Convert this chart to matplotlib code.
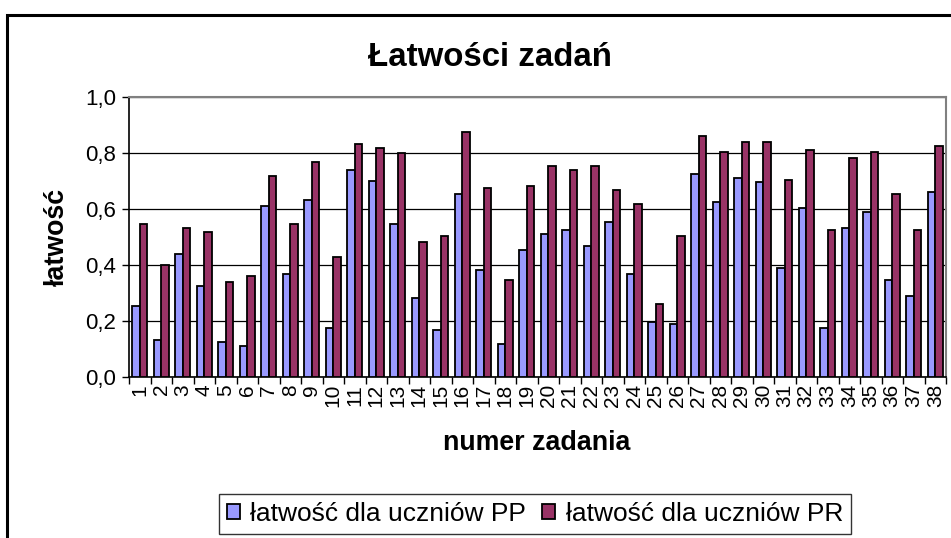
import numpy as np
import matplotlib.pyplot as plt
from matplotlib.patches import Rectangle
from matplotlib.ticker import FuncFormatter, FixedLocator

plt.rcParams['font.family'] = ['Liberation Sans', 'DejaVu Sans']

zadania = [str(i) for i in range(1, 39)]
latwosc_pp = [0.255, 0.133, 0.44, 0.326, 0.126, 0.112, 0.612, 0.369, 0.633, 0.176,
              0.740, 0.699, 0.548, 0.283, 0.169, 0.655, 0.383, 0.119, 0.455, 0.512,
              0.526, 0.469, 0.555, 0.369, 0.198, 0.190, 0.726, 0.626, 0.712, 0.698,
              0.389, 0.605, 0.176, 0.533, 0.590, 0.348, 0.290, 0.662]
latwosc_pr = [0.548, 0.399, 0.533, 0.519, 0.340, 0.362, 0.719, 0.548, 0.769, 0.427,
              0.833, 0.819, 0.800, 0.483, 0.505, 0.876, 0.676, 0.348, 0.683, 0.755,
              0.740, 0.755, 0.669, 0.619, 0.262, 0.505, 0.862, 0.805, 0.840, 0.840,
              0.705, 0.812, 0.526, 0.783, 0.805, 0.655, 0.526, 0.826]

fig = plt.figure(figsize=(9.51, 5.38), dpi=100)
W, H = 951, 538

# outer chart frame (cut by the image edges)
fig.patches.append(Rectangle((7 / W, -0.1), 1.2, 1 - 15 / H + 0.1, transform=fig.transFigure,
                             fill=False, edgecolor='black', linewidth=2.2))

ax = fig.add_axes([129 / W, 1 - 377 / H, (946 - 129) / W, (377 - 97) / H])
x = np.arange(len(zadania))
w = 0.34
ax.bar(x - w / 2, latwosc_pp, w, color='#9999FF', edgecolor='black', linewidth=1.3,
       label='łatwość dla uczniów PP', zorder=3)
ax.bar(x + w / 2, latwosc_pr, w, color='#993366', edgecolor='black', linewidth=1.3,
       label='łatwość dla uczniów PR', zorder=3)

ax.set_xlim(-0.5, len(zadania) - 0.5)
ax.set_ylim(0, 1.0)
ax.set_yticks(np.arange(0, 1.01, 0.2))
ax.yaxis.set_major_formatter(FuncFormatter(lambda v, p: f'{v:.1f}'.replace('.', ',')))
ax.grid(axis='y', color='black', linewidth=0.9, zorder=0)

ax.set_xticks(x)
ax.set_xticklabels(zadania, rotation=90, fontsize=15)
ax.tick_params(axis='x', which='major', length=0, pad=5)
ax.xaxis.set_minor_locator(FixedLocator(np.arange(-0.5, len(zadania), 1)))
ax.tick_params(axis='x', which='minor', length=5, width=1, color='black', direction='out')
ax.tick_params(axis='y', labelsize=16, length=5, width=1, direction='out', pad=4)

for s in ['top', 'right']:
    ax.spines[s].set_color('#808080')
    ax.spines[s].set_linewidth(1.5)
for s in ['left', 'bottom']:
    ax.spines[s].set_color('black')
    ax.spines[s].set_linewidth(1.2)

fig.text(490 / W, 1 - 58 / H, 'Łatwości zadań', ha='center', va='center',
         fontsize=23.8, fontweight='bold')
fig.text(537 / W, 1 - 443 / H, 'numer zadania', ha='center', va='center',
         fontsize=19.3, fontweight='bold')
fig.text(57 / W, 1 - 237 / H, 'łatwość', ha='center', va='center', rotation=90,
         fontsize=19.3, fontweight='bold')

leg = fig.legend(loc='center', bbox_to_anchor=(535 / W, 1 - 514 / H), ncol=2,
                 fontsize=19, frameon=True, fancybox=False, handlelength=0.5,
                 handleheight=0.5, handletextpad=0.4, columnspacing=0.6,
                 borderpad=0.3)
leg.get_frame().set_edgecolor('black')
leg.get_frame().set_linewidth(1.0)

fig.savefig('out.png', dpi=100)
